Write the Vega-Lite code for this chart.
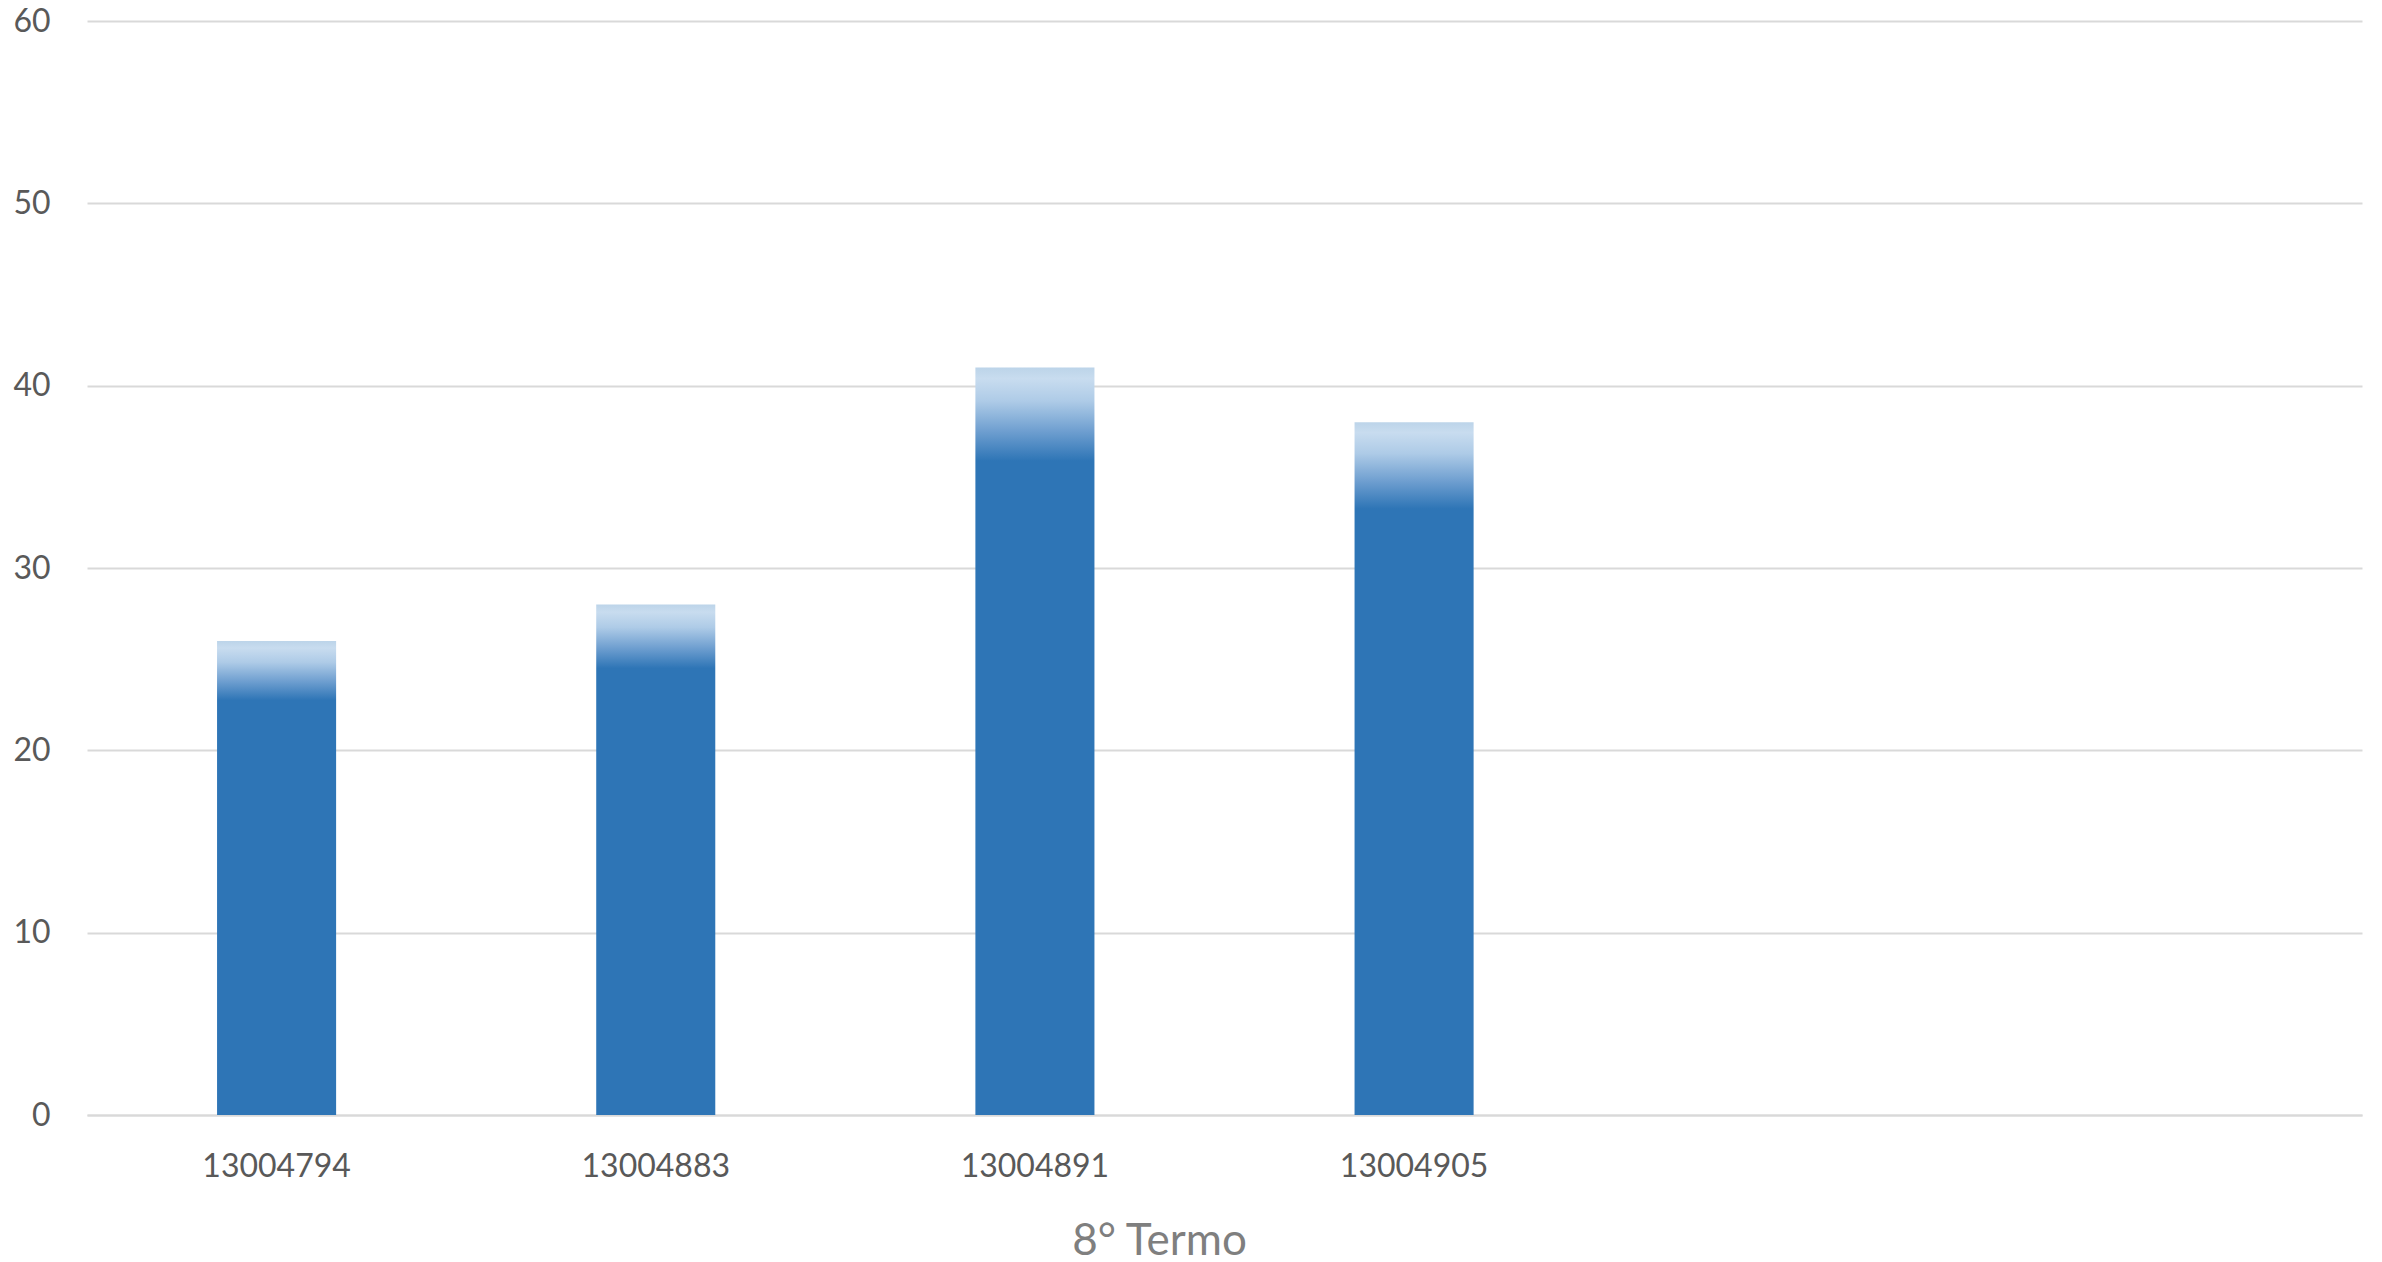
{
  "$schema": "https://vega.github.io/schema/vega-lite/v6.json",
  "width": 2275,
  "height": 1094,
  "autosize": {"type": "none"},
  "padding": {"left": 87, "top": 21, "right": 20, "bottom": 147},
  "background": "#ffffff",
  "config": {"view": {"stroke": null}, "font": "Lato"},
  "data": {
    "values": [
      {"termo": "13004794", "valor": 26},
      {"termo": "13004883", "valor": 28},
      {"termo": "13004891", "valor": 41},
      {"termo": "13004905", "valor": 38}
    ]
  },
  "mark": {
    "type": "bar",
    "color": {
      "gradient": "linear",
      "x1": 0, "y1": 0, "x2": 0, "y2": 1,
      "stops": [
        {"offset": 0, "color": "#bcd4e9"},
        {"offset": 0.015, "color": "#c8dcef"},
        {"offset": 0.045, "color": "#aecbe7"},
        {"offset": 0.085, "color": "#6f9fd0"},
        {"offset": 0.125, "color": "#2e75b6"},
        {"offset": 1, "color": "#2e75b6"}
      ]
    }
  },
  "encoding": {
    "x": {
      "field": "termo",
      "type": "nominal",
      "sort": null,
      "scale": {
        "domain": ["13004794", "13004883", "13004891", "13004905", " ", "  "],
        "paddingInner": 0.686,
        "paddingOuter": 0.343
      },
      "axis": {
        "title": "8° Termo",
        "titleFont": "Lato",
        "titleFontSize": 44,
        "titleFontWeight": "normal",
        "titleColor": "#7f7f7f",
        "titleAnchor": "start",
        "titleAlign": "center",
        "titleBaseline": "alphabetic",
        "titleX": 1072,
        "titleY": 139,
        "labelAngle": 0,
        "labelFont": "Lato",
        "labelFontSize": 32,
        "labelColor": "#595959",
        "labelPadding": 36,
        "labelBaseline": "top",
        "ticks": false,
        "domain": true,
        "domainColor": "#d9d9d9",
        "domainWidth": 2,
        "grid": false
      }
    },
    "y": {
      "field": "valor",
      "type": "quantitative",
      "scale": {"domain": [0, 60], "nice": false},
      "axis": {
        "title": null,
        "values": [0, 10, 20, 30, 40, 50, 60],
        "labelFont": "Lato",
        "labelFontSize": 32,
        "labelColor": "#595959",
        "labelPadding": 37,
        "ticks": false,
        "domain": false,
        "grid": true,
        "gridColor": "#d9d9d9",
        "gridWidth": 2
      }
    }
  }
}
